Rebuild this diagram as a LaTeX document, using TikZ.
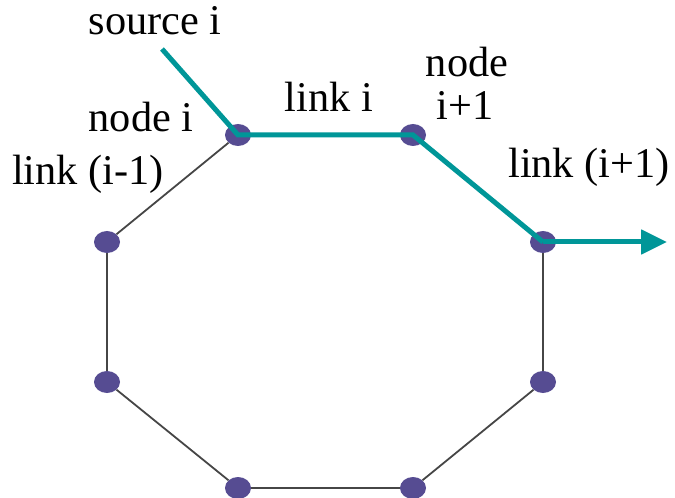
\documentclass[tikz,border=0pt]{standalone}
\usepackage{fontspec}
\setmainfont{Liberation Serif}
\usetikzlibrary{shapes.geometric,arrows.meta}
\definecolor{teal1}{RGB}{0,150,152}
\definecolor{dotc}{RGB}{86,76,146}
\definecolor{edgec}{RGB}{70,70,70}
\tikzset{
  ringnode/.style={ellipse,fill=dotc,minimum width=26bp,minimum height=22bp,inner sep=0pt},
  ringedge/.style={draw=edgec,line width=1.8bp},
  flow/.style={draw=teal1,line width=5bp},
  lbl/.style={anchor=base,inner sep=0pt,font=\fontsize{42.5}{48}\selectfont}
}
\begin{document}
\begin{tikzpicture}[x=1bp,y=-1bp]
\useasboundingbox (0,0) rectangle (675,498);
\node[ringnode] (A) at (238,135) {};
\node[ringnode] (B) at (413,135) {};
\node[ringnode] (C) at (543,242) {};
\node[ringnode] (D) at (543,382) {};
\node[ringnode] (E) at (413,488) {};
\node[ringnode] (F) at (238,488) {};
\node[ringnode] (G) at (107,382) {};
\node[ringnode] (H) at (107,242) {};
\coordinate (S) at (162,49);
\coordinate (T) at (667,242);
\draw[ringedge] (C) -- (D);
\draw[ringedge] (D) -- (E);
\draw[ringedge] (E) -- (F);
\draw[ringedge] (F) -- (G);
\draw[ringedge] (G) -- (H);
\draw[ringedge] (H) -- (A);
\draw[flow] (S) -- (A.center) -- (B.center) -- (C.center);
\draw[flow,-{Triangle[length=26bp,width=24bp]}] (C.center) -- (T);
\node[lbl] (ls) at (155,35) {source i};
\node[lbl] (lni) at (141,132) {node i};
\node[lbl] (llm) at (88,185) {link (i-1)};
\node[lbl] (lli) at (329,112) {link i};
\node[lbl] (ln1) at (467,77) {node};
\node[lbl] (ln2) at (465,120) {i+1};
\node[lbl] (llp) at (589,178) {link (i+1)};
\end{tikzpicture}
\end{document}
